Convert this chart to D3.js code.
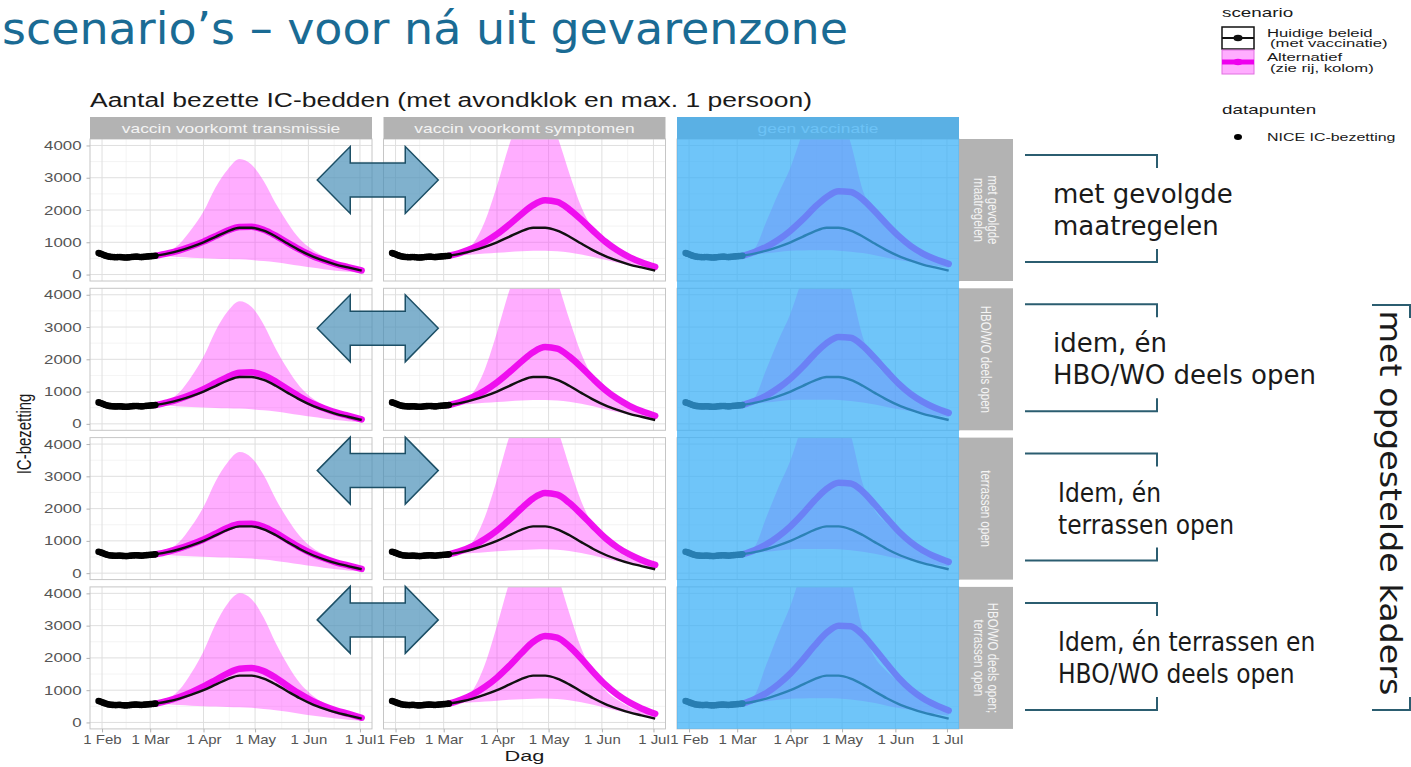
<!DOCTYPE html>
<html lang="nl">
<head>
<meta charset="utf-8">
<title>IC-bezetting scenario's</title>
<script src="https://cdn.jsdelivr.net/npm/d3@7"></script>
<style>
  html, body { margin: 0; padding: 0; background: #fff; }
  svg { display: block; }
</style>
</head>
<body>
<svg id="chart" width="1411" height="767"></svg>
<script>
// facet labels
const columns = ["vaccin voorkomt transmissie", "vaccin voorkomt symptomen", "geen vaccinatie"];
const rows = [["met gevolgde", "maatregelen"], ["HBO/WO deels open"], ["terrassen open"], ["HBO/WO deels open;", "terrassen open"]];
const notes = [["met gevolgde", "maatregelen"], ["idem, én", "HBO/WO deels open"], ["Idem, én", "terrassen open"], ["Idem, én terrassen en", "HBO/WO deels open"]];

const yTicks = [0, 1000, 2000, 3000, 4000];
const xTicks = ["2021-02-01", "2021-03-01", "2021-04-01", "2021-05-01", "2021-06-01", "2021-07-01"];
const xTickLabels = ["1 Feb", "1 Mar", "1 Apr", "1 May", "1 Jun", "1 Jul"];

// NICE datapunten, daily from 30 jan
const niceStart = "2021-01-30";
const niceValues = [665, 648, 628, 605, 585, 568, 556, 548, 543, 540, 538, 541, 545, 540, 534, 530, 528, 532,
  538, 544, 548, 551, 554, 550, 545, 541, 547, 553, 558, 563, 567, 571, 576, 582];

// model output at these dates
const knotDates = ["2021-03-04", "2021-03-11", "2021-03-18", "2021-03-25", "2021-04-01", "2021-04-08", "2021-04-15",
  "2021-04-22", "2021-04-29", "2021-05-06", "2021-05-13", "2021-05-20", "2021-05-27", "2021-06-03", "2021-06-10",
  "2021-06-17", "2021-06-24", "2021-07-02"];

// huidige beleid (zelfde in elk paneel)
const huidig = [580, 650, 740, 860, 1000, 1170, 1340, 1450, 1450, 1360, 1180, 960, 750, 570, 430, 310, 220, 120];

// alternatief, mediaan per rij
const altTransmissie = [
  [580, 655, 750, 875, 1020, 1190, 1365, 1475, 1480, 1390, 1205, 980, 770, 585, 445, 325, 230, 125],
  [580, 665, 775, 910, 1075, 1265, 1455, 1585, 1600, 1505, 1310, 1070, 840, 640, 485, 355, 255, 140],
  [580, 660, 765, 895, 1045, 1225, 1405, 1520, 1530, 1440, 1250, 1020, 800, 610, 460, 335, 240, 130],
  [580, 670, 790, 940, 1115, 1315, 1520, 1665, 1685, 1590, 1385, 1130, 885, 675, 510, 375, 270, 145]
];
const altSymptomen = [
  [580, 680, 820, 1010, 1250, 1540, 1860, 2150, 2300, 2250, 2020, 1700, 1350, 1020, 750, 540, 380, 240],
  [580, 685, 830, 1030, 1285, 1590, 1920, 2220, 2380, 2330, 2090, 1760, 1390, 1050, 775, 560, 395, 250],
  [580, 690, 845, 1055, 1320, 1645, 1995, 2315, 2480, 2430, 2180, 1830, 1450, 1090, 800, 580, 410, 255],
  [580, 700, 870, 1100, 1390, 1745, 2135, 2495, 2680, 2630, 2360, 1980, 1560, 1170, 860, 620, 435, 270]
];
const altGeen = [
  [580, 700, 860, 1080, 1360, 1700, 2080, 2400, 2580, 2560, 2330, 1960, 1560, 1190, 880, 650, 480, 330],
  [580, 705, 875, 1110, 1400, 1760, 2160, 2500, 2690, 2670, 2420, 2040, 1630, 1240, 920, 680, 500, 340],
  [580, 710, 890, 1140, 1450, 1830, 2250, 2610, 2800, 2780, 2530, 2130, 1700, 1290, 955, 700, 515, 350],
  [580, 720, 915, 1185, 1520, 1930, 2380, 2780, 3000, 2980, 2710, 2280, 1820, 1380, 1020, 750, 550, 370]
];

// bovengrens band
const hiTransmissie = [
  [580, 700, 950, 1400, 1950, 2700, 3250, 3580, 3400, 2900, 2200, 1600, 1100, 780, 560, 400, 280, 170],
  [580, 710, 980, 1470, 2080, 2880, 3480, 3800, 3620, 3080, 2330, 1690, 1160, 810, 580, 415, 290, 175],
  [580, 705, 970, 1450, 2050, 2840, 3430, 3750, 3570, 3040, 2300, 1670, 1150, 800, 575, 410, 285, 175],
  [580, 720, 1010, 1540, 2200, 3040, 3680, 4000, 3820, 3250, 2460, 1780, 1220, 850, 600, 430, 300, 180]
];
const hiSymptomen = [
  [580, 700, 950, 1650, 2750, 4000, 5000, 5400, 5200, 4300, 3150, 2100, 1380, 920, 640, 450, 320, 215],
  [580, 705, 965, 1700, 2830, 4100, 5100, 5550, 5350, 4420, 3250, 2180, 1420, 950, 660, 460, 330, 220],
  [580, 710, 980, 1750, 2900, 4200, 5200, 5650, 5450, 4500, 3320, 2230, 1460, 975, 680, 470, 335, 225],
  [580, 720, 1000, 1800, 3000, 4300, 5300, 5800, 5600, 4600, 3400, 2300, 1500, 1000, 700, 480, 340, 230]
];
const hiGeen = [
  [580, 790, 1650, 2520, 3320, 4380, 5150, 5450, 5150, 4080, 2620, 1850, 1460, 1170, 930, 740, 545, 350],
  [580, 800, 1700, 2600, 3420, 4500, 5300, 5600, 5300, 4200, 2700, 1900, 1500, 1200, 960, 760, 560, 360],
  [580, 810, 1740, 2660, 3500, 4600, 5400, 5700, 5400, 4300, 2780, 1950, 1540, 1230, 985, 780, 575, 370],
  [580, 830, 1800, 2750, 3620, 4750, 5550, 5850, 5550, 4450, 2880, 2020, 1590, 1270, 1010, 800, 590, 380]
];

// ondergrens band (per kolom)
const loTransmissie = [580, 565, 540, 520, 505, 492, 482, 472, 452, 420, 380, 330, 272, 218, 166, 120, 84, 50];
const loSymptomen = [580, 600, 625, 650, 675, 700, 720, 735, 740, 725, 685, 625, 545, 455, 365, 285, 215, 145];
const loGeen = [580, 620, 660, 700, 735, 745, 750, 750, 740, 710, 665, 600, 520, 450, 390, 330, 270, 215];

// --- layout ---
const panelW = 282, panelH = 142;
const colX = c => 90 + c * 293.5;
const rowTop = r => 139 + r * 149.3;
const stripTop = 117;
const arrowOffsets = [41, 40, 33, 33];

const parse = d3.utcParse("%Y-%m-%d");
const x = d3.scaleUtc().domain([parse("2021-01-25"), parse("2021-07-08")]).range([0, panelW]);
const y = d3.scaleLinear().domain([-200, 4200]).range([panelH, 0]);

const svg = d3.select("#chart");
svg.append("defs").append("clipPath").attr("id", "panelClip")
  .append("rect").attr("width", panelW).attr("height", panelH);

const SANS = "Liberation Sans, Arial, Helvetica, sans-serif";

// chart text is squeezed into the slide, so it's drawn wider than tall
function wideText(parent, px, py, str, size, sx, opt = {}) {
  return parent.append("text")
    .attr("transform", `translate(${px},${py}) scale(${sx},1)`)
    .attr("text-anchor", opt.anchor || "start")
    .attr("font-family", SANS)
    .attr("font-size", size)
    .attr("fill", opt.fill || "#1a1a1a")
    .text(str);
}

const area = d3.area().curve(d3.curveMonotoneX)
  .x(d => x(d.date)).y0(d => y(d.lo)).y1(d => y(d.hi));
const midLine = d3.line().curve(d3.curveMonotoneX).x(d => x(d.date)).y(d => y(d.mid));
const curLine = d3.line().curve(d3.curveMonotoneX).x(d => x(d.date)).y(d => y(d.cur));

const midBy = [altTransmissie, altSymptomen, altGeen];
const hiBy = [hiTransmissie, hiSymptomen, hiGeen];
const loBy = [loTransmissie, loSymptomen, loGeen];

const xMajor = xTicks.map(parse);
const xMinor = d3.pairs(xMajor).map(([a, b]) => new Date((+a + +b) / 2));
const yMinor = d3.pairs(yTicks).map(([a, b]) => (a + b) / 2);
const nice = niceValues.map((v, i) => ({date: d3.utcDay.offset(parse(niceStart), i), v}));

columns.forEach((colName, c) => {
  rows.forEach((rowName, r) => {
    const g = svg.append("g").attr("transform", `translate(${colX(c)},${rowTop(r)})`);
    g.append("rect").attr("width", panelW).attr("height", panelH).attr("fill", "#fff");

    const grid = g.append("g");
    grid.selectAll(".vmin").data(xMinor).join("line")
      .attr("x1", d => x(d)).attr("x2", d => x(d)).attr("y1", 0).attr("y2", panelH)
      .attr("stroke", "#ececec").attr("stroke-width", 0.6);
    grid.selectAll(".hmin").data(yMinor).join("line")
      .attr("x1", 0).attr("x2", panelW).attr("y1", d => y(d)).attr("y2", d => y(d))
      .attr("stroke", "#ececec").attr("stroke-width", 0.6);
    grid.selectAll(".vmaj").data(xMajor).join("line")
      .attr("x1", d => x(d)).attr("x2", d => x(d)).attr("y1", 0).attr("y2", panelH)
      .attr("stroke", "#dfdfdf").attr("stroke-width", 1);
    grid.selectAll(".hmaj").data(yTicks).join("line")
      .attr("x1", 0).attr("x2", panelW).attr("y1", d => y(d)).attr("y2", d => y(d))
      .attr("stroke", "#dfdfdf").attr("stroke-width", 1);

    const series = knotDates.map((d, i) => ({
      date: parse(d), lo: loBy[c][i], hi: hiBy[c][r][i], mid: midBy[c][r][i], cur: huidig[i]
    }));

    const plot = g.append("g").attr("clip-path", "url(#panelClip)");
    plot.append("path").datum(series).attr("d", area)
      .attr("fill", "#ff33ff").attr("fill-opacity", 0.4);
    plot.append("path").datum(series).attr("d", midLine)
      .attr("fill", "none").attr("stroke", "#ee00ee").attr("stroke-width", 6.5)
      .attr("stroke-opacity", 0.92).attr("stroke-linecap", "round");
    plot.append("path").datum(series).attr("d", curLine)
      .attr("fill", "none").attr("stroke", "#111").attr("stroke-width", 2.4);
    plot.selectAll("circle").data(nice).join("circle")
      .attr("cx", d => x(d.date)).attr("cy", d => y(d.v)).attr("r", 3.3).attr("fill", "#000");

    g.append("rect").attr("width", panelW).attr("height", panelH)
      .attr("fill", "none").attr("stroke", "#c6c6c6").attr("stroke-width", 1);

    if (c === 0) {
      const ya = g.append("g").call(d3.axisLeft(y).tickValues(yTicks).tickFormat(d3.format("d"))
        .tickSize(3.5).tickPadding(2.8));
      ya.select(".domain").remove();
      ya.selectAll("line").attr("stroke", "#b3b3b3");
      ya.selectAll("text").attr("fill", "#555").attr("font-size", 12.5).attr("font-family", SANS)
        .attr("transform", "scale(1.35,1)");
    }
    if (r === rows.length - 1) {
      const xa = g.append("g").attr("transform", `translate(0,${panelH})`)
        .call(d3.axisBottom(x).tickValues(xMajor).tickFormat((d, i) => xTickLabels[i]).tickSize(3.5).tickPadding(3));
      xa.select(".domain").remove();
      xa.selectAll("line").attr("stroke", "#b3b3b3");
      xa.selectAll("text").attr("fill", "#555").attr("font-size", 12.5).attr("font-family", SANS)
        .attr("transform", "scale(1.2,1)");
    }
  });

  // top strip
  svg.append("rect").attr("x", colX(c)).attr("y", stripTop).attr("width", panelW).attr("height", rowTop(0) - stripTop)
    .attr("fill", "#b3b3b3");
  wideText(svg, colX(c) + panelW / 2, stripTop + 15.5, colName, 12, 1.45, {anchor: "middle", fill: "#f4f4f4"});
});

// right strips
const stripX = colX(2) + panelW;
rows.forEach((lines, r) => {
  svg.append("rect").attr("x", stripX).attr("y", rowTop(r)).attr("width", 54).attr("height", panelH)
    .attr("fill", "#b3b3b3");
  const t = svg.append("g")
    .attr("transform", `translate(${stripX + 27},${rowTop(r) + panelH / 2}) rotate(90) scale(1,1.2)`);
  lines.forEach((ln, i) => {
    t.append("text").attr("x", 0).attr("y", (i - (lines.length - 1) / 2) * 11.5)
      .attr("dy", "0.35em").attr("text-anchor", "middle")
      .attr("font-family", SANS).attr("font-size", 11.5).attr("fill", "#f4f4f4").text(ln);
  });
});

// axis titles and chart title
wideText(svg, colX(1) + panelW / 2, 761, "Dag", 15, 1.45, {anchor: "middle"});
svg.append("text")
  .attr("transform", `translate(31,${(rowTop(0) + rowTop(3) + panelH) / 2}) rotate(-90) scale(1,1.3)`)
  .attr("text-anchor", "middle").attr("font-family", SANS).attr("font-size", 15).attr("fill", "#1a1a1a")
  .text("IC-bezetting");
svg.append("text").attr("x", 90).attr("y", 107).attr("font-family", SANS).attr("font-size", 19.5)
  .attr("fill", "#1a1a1a").attr("textLength", 722).attr("lengthAdjust", "spacingAndGlyphs")
  .text("Aantal bezette IC-bedden (met avondklok en max. 1 persoon)");

// blue highlight over the "geen vaccinatie" column
svg.append("rect").attr("x", colX(2)).attr("y", stripTop)
  .attr("width", panelW).attr("height", rowTop(3) + panelH - stripTop)
  .attr("fill", "rgb(55,175,246)").attr("fill-opacity", 0.72);

// double arrows between column 1 and 2
const arrowPts = [[-60.5, 0], [-27.5, -33.5], [-27.5, -17], [27.5, -17], [27.5, -33.5], [60.5, 0],
  [27.5, 33.5], [27.5, 17], [-27.5, 17], [-27.5, 33.5]];
const arrowCx = (colX(0) + panelW + colX(1)) / 2;
rows.forEach((_, r) => {
  const cy = rowTop(r) + arrowOffsets[r];
  svg.append("path")
    .attr("d", d3.line()(arrowPts.map(p => [arrowCx + p[0], cy + p[1]])) + "Z")
    .attr("fill", "#4a90b8").attr("fill-opacity", 0.7)
    .attr("stroke", "#1c4f66").attr("stroke-width", 1.5).attr("stroke-linejoin", "miter");
});

// slide annotations on the right
const teal = "#2b5d70";
notes.forEach((lines, r) => {
  const top = rowTop(r) + 16, bot = rowTop(r) + panelH - 19;
  svg.append("path").attr("d", `M1025,${top}H1157V${top + 13}M1025,${bot}H1157V${bot - 13}`)
    .attr("fill", "none").attr("stroke", teal).attr("stroke-width", 2);
  const condensed = r >= 2;
  lines.forEach((ln, i) => {
    svg.append("text").attr("x", condensed ? 1058 : 1053).attr("y", rowTop(r) + 64 + i * 32)
      .attr("font-family", condensed ? "DejaVu Sans Condensed, DejaVu Sans, sans-serif" : "DejaVu Sans, sans-serif")
      .attr("font-size", 26).attr("fill", "#1a1a1a").text(ln);
  });
});

svg.append("path").attr("d", "M1372,305H1410V318M1372,710H1410V697")
  .attr("fill", "none").attr("stroke", teal).attr("stroke-width", 2);
svg.append("text").attr("transform", "translate(1380,503) rotate(90)").attr("text-anchor", "middle")
  .attr("font-family", "DejaVu Sans, sans-serif").attr("font-size", 30).attr("fill", "#1a1a1a")
  .attr("textLength", 385).attr("lengthAdjust", "spacingAndGlyphs")
  .text("met opgestelde kaders");

// slide title
svg.append("text").attr("x", 2).attr("y", 44)
  .attr("font-family", "DejaVu Sans Condensed, DejaVu Sans, sans-serif").attr("font-size", 44)
  .attr("fill", "#1a6b94").attr("textLength", 846).attr("lengthAdjust", "spacingAndGlyphs")
  .text("scenario\u2019s \u2013 voor n\u00e1 uit gevarenzone");

// legend
const lg = svg.append("g");
wideText(lg, 1222, 17, "scenario", 13, 1.45);
lg.append("rect").attr("x", 1222).attr("y", 27).attr("width", 32).attr("height", 22)
  .attr("fill", "#fff").attr("stroke", "#111").attr("stroke-width", 1.5);
lg.append("line").attr("x1", 1222).attr("x2", 1254).attr("y1", 38).attr("y2", 38)
  .attr("stroke", "#111").attr("stroke-width", 2);
lg.append("ellipse").attr("cx", 1238).attr("cy", 38).attr("rx", 4.5).attr("ry", 3.3).attr("fill", "#111");
lg.append("rect").attr("x", 1222).attr("y", 50).attr("width", 32).attr("height", 24)
  .attr("fill", "#ff33ff").attr("fill-opacity", 0.4).attr("stroke", "#e070e0").attr("stroke-width", 1);
lg.append("line").attr("x1", 1222).attr("x2", 1254).attr("y1", 62).attr("y2", 62)
  .attr("stroke", "#ee00ee").attr("stroke-width", 5);
lg.append("ellipse").attr("cx", 1238).attr("cy", 62).attr("rx", 4.5).attr("ry", 3.3).attr("fill", "#ee00ee");
wideText(lg, 1267, 37, "Huidige beleid", 11.5, 1.45);
wideText(lg, 1270, 47, "(met vaccinatie)", 11.5, 1.45);
wideText(lg, 1267, 61, "Alternatief", 11.5, 1.45);
wideText(lg, 1270, 72, "(zie rij, kolom)", 11.5, 1.45);
wideText(lg, 1222, 114, "datapunten", 13, 1.45);
lg.append("ellipse").attr("cx", 1238).attr("cy", 137).attr("rx", 4).attr("ry", 3).attr("fill", "#000");
wideText(lg, 1267, 141, "NICE IC-bezetting", 11, 1.45);
</script>
</body>
</html>
